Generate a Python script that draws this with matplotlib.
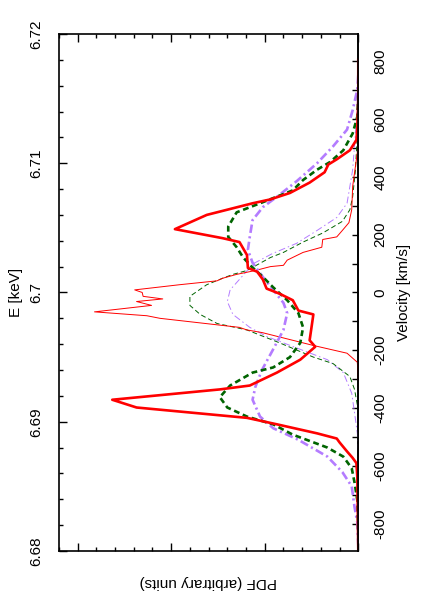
import numpy as np
import matplotlib.pyplot as plt
from matplotlib.ticker import MultipleLocator, FixedLocator, FormatStrFormatter, NullFormatter

plt.rcParams['font.family'] = ['Liberation Sans', 'DejaVu Sans']
plt.rcParams['axes.unicode_minus'] = False

# Данные: энергия (кэВ) и PDF (произв. ед.)
# толстая красная
E_red = [6.7180, 6.7149, 6.7128, 6.7118, 6.7110, 6.7103, 6.7099, 6.7093, 6.7085, 6.7077,
         6.7072, 6.7069, 6.7060, 6.7049, 6.7042, 6.7039, 6.7029, 6.7019, 6.7016, 6.7010,
         6.7003, 6.6999, 6.6994, 6.6986, 6.6983, 6.6963, 6.6958, 6.6948, 6.6938, 6.6928,
         6.6925, 6.6917, 6.6911, 6.6903, 6.6898, 6.6891, 6.6887, 6.6884, 6.6877, 6.6872,
         6.6868, 6.6857, 6.6801]
P_red = [0.00, 0.00, 0.01, 0.02, 0.09, 0.23, 0.32, 0.36, 0.52, 0.73,
         0.94, 1.13, 1.62, 1.96, 1.45, 1.27, 1.19, 1.18, 1.08, 1.02,
         0.98, 0.84, 0.70, 0.64, 0.48, 0.52, 0.46, 0.62, 0.87, 1.16,
         1.48, 2.63, 2.37, 1.19, 0.87, 0.44, 0.23, 0.20, 0.12, 0.06,
         0.02, 0.01, 0.00]

# толстая зелёная пунктирная
E_green = [6.7153, 6.7136, 6.7123, 6.7110, 6.7101, 6.7095, 6.7087, 6.7079, 6.7069, 6.7062,
           6.7051, 6.7043, 6.7035, 6.7027, 6.7020, 6.7012, 6.7004, 6.6994, 6.6984, 6.6973,
           6.6961, 6.6950, 6.6942, 6.6938, 6.6928, 6.6919, 6.6911, 6.6904, 6.6898, 6.6890,
           6.6880, 6.6873, 6.6864, 6.6853, 6.6839, 6.6816]
P_green = [0.00, 0.01, 0.06, 0.16, 0.30, 0.44, 0.59, 0.70, 1.05, 1.30,
           1.39, 1.39, 1.30, 1.23, 1.14, 1.02, 0.91, 0.76, 0.64, 0.59,
           0.62, 0.73, 0.91, 1.13, 1.37, 1.48, 1.40, 1.19, 0.91, 0.70,
           0.33, 0.16, 0.07, 0.04, 0.01, 0.00]

# толстая фиолетовая штрих-пунктирная
E_purple = [6.7168, 6.7157, 6.7141, 6.7126, 6.7113, 6.7100, 6.7086, 6.7074, 6.7066, 6.7056,
            6.7043, 6.7033, 6.7023, 6.7012, 6.7002, 6.6992, 6.6984, 6.6971, 6.6956, 6.6940,
            6.6927, 6.6917, 6.6904, 6.6895, 6.6886, 6.6873, 6.6861, 6.6850, 6.6834, 6.6822,
            6.6805]
P_purple = [0.00, 0.01, 0.06, 0.12, 0.27, 0.44, 0.66, 0.87, 1.02, 1.13,
            1.16, 1.18, 1.13, 1.02, 0.91, 0.80, 0.76, 0.80, 0.91, 1.03,
            1.10, 1.13, 1.05, 0.91, 0.64, 0.33, 0.17, 0.07, 0.04, 0.01,
            0.00]

# тонкая красная
E_red_t = [6.7114, 6.7103, 6.7082, 6.7064, 6.7054, 6.7048, 6.7043, 6.7041, 6.7035, 6.7031,
           6.7025, 6.7021, 6.7020, 6.7017, 6.7014, 6.7011, 6.7009, 6.7006, 6.7002, 6.7000,
           6.6997, 6.6995, 6.6993, 6.6990, 6.6985, 6.6982, 6.6980, 6.6973, 6.6971, 6.6969,
           6.6963, 6.6959, 6.6953, 6.6946, 6.6932]
P_red_t = [0.00, 0.02, 0.06, 0.07, 0.10, 0.17, 0.23, 0.38, 0.39, 0.59,
           0.76, 0.80, 0.94, 1.10, 1.30, 1.45, 1.51, 1.91, 2.39, 2.31,
           2.30, 2.09, 2.37, 2.21, 2.82, 2.26, 2.12, 1.27, 1.19, 1.03,
           0.70, 0.48, 0.12, 0.01, 0.00]

# тонкая зелёная
E_green_t = [6.7137, 6.7095, 6.7074, 6.7064, 6.7055, 6.7046, 6.7039, 6.7031, 6.7027, 6.7017,
             6.7014, 6.7011, 6.7006, 6.6997, 6.6990, 6.6983, 6.6976, 6.6971, 6.6961, 6.6950,
             6.6945, 6.6935, 6.6925, 6.6909]
P_green_t = [0.00, 0.03, 0.06, 0.09, 0.17, 0.38, 0.59, 0.80, 0.94, 1.19,
             1.34, 1.45, 1.62, 1.80, 1.80, 1.69, 1.51, 1.19, 0.84, 0.48,
             0.27, 0.09, 0.04, 0.00]

# тонкая фиолетовая
E_purple_t = [6.7161, 6.7123, 6.7095, 6.7069, 6.7058, 6.7048, 6.7038, 6.7030, 6.7022, 6.7015,
              6.7002, 6.6993, 6.6983, 6.6973, 6.6966, 6.6956, 6.6948, 6.6938, 6.6922, 6.6907,
              6.6891, 6.6878]
P_purple_t = [0.00, 0.03, 0.06, 0.12, 0.23, 0.44, 0.66, 0.92, 1.13, 1.21,
              1.37, 1.40, 1.34, 1.16, 0.98, 0.62, 0.33, 0.16, 0.07, 0.04,
              0.01, 0.00]

v_major = [-800, -600, -400, -200, 0, 200, 400, 600, 800]
v_minor = [-700, -500, -300, -100, 100, 300, 500, 700]

E0 = 6.7            # кэВ, нулевая скорость
c = 299792.458      # км/с

PURPLE = '#b47cff'
GREEN = '#006400'

fig = plt.figure(figsize=(4.21, 6.0), dpi=100)
ax = fig.add_axes([0.140, 0.0817, 0.711, 0.8617])

# тонкие линии
ax.plot(P_purple_t, E_purple_t, color=PURPLE, lw=0.7, dashes=(7, 3, 1.5, 3))
ax.plot(P_green_t, E_green_t, color=GREEN, lw=0.7, dashes=(5, 3))
ax.plot(P_red_t, E_red_t, color='red', lw=0.7)
# толстые линии
ax.plot(P_purple, E_purple, color=PURPLE, lw=1.9, dashes=(3.2, 1.3, 0.8, 1.3))
ax.plot(P_green, E_green, color=GREEN, lw=1.9, dashes=(2.2, 1.4))
ax.plot(P_red, E_red, color='red', lw=1.9)

ax.set_xlim(3.2, 0)
ax.set_ylim(6.68, 6.72)

ax.yaxis.set_major_locator(MultipleLocator(0.01))
ax.yaxis.set_minor_locator(MultipleLocator(0.002))
ax.yaxis.set_major_formatter(FormatStrFormatter('%g'))
ax.xaxis.set_major_locator(MultipleLocator(1))
ax.xaxis.set_minor_locator(MultipleLocator(0.2))
ax.xaxis.set_major_formatter(NullFormatter())

ax.tick_params(axis='y', which='both', direction='in', left=True, right=False,
               labelsize=11, pad=11)
ax.tick_params(axis='x', which='both', direction='in', top=True, bottom=True)
ax.tick_params(which='major', length=6, width=1)
ax.tick_params(which='minor', length=3, width=1)
for lab in ax.get_yticklabels():
    lab.set_rotation(90)
    lab.set_va('center')

ax.set_ylabel('E [keV]', fontsize=11, labelpad=5)
ax.set_xlabel('PDF (arbitrary units)', fontsize=11, rotation=180, labelpad=14)

for sp in ax.spines.values():
    sp.set_linewidth(1.2)

# ось скоростей справа
sec = ax.secondary_yaxis('right', functions=(lambda E: c * (E - E0) / E0,
                                             lambda v: E0 + v * E0 / c))
sec.yaxis.set_major_locator(FixedLocator(v_major))
sec.yaxis.set_minor_locator(FixedLocator(v_minor))
sec.tick_params(which='both', direction='in', length=4, width=1, labelsize=11, pad=11)
for lab in sec.get_yticklabels():
    lab.set_rotation(90)
    lab.set_va('center')
sec.set_ylabel('Velocity [km/s]', fontsize=11, rotation=90, labelpad=7)
sec.spines['right'].set_linewidth(1.2)

fig.savefig('out.png', dpi=100)
